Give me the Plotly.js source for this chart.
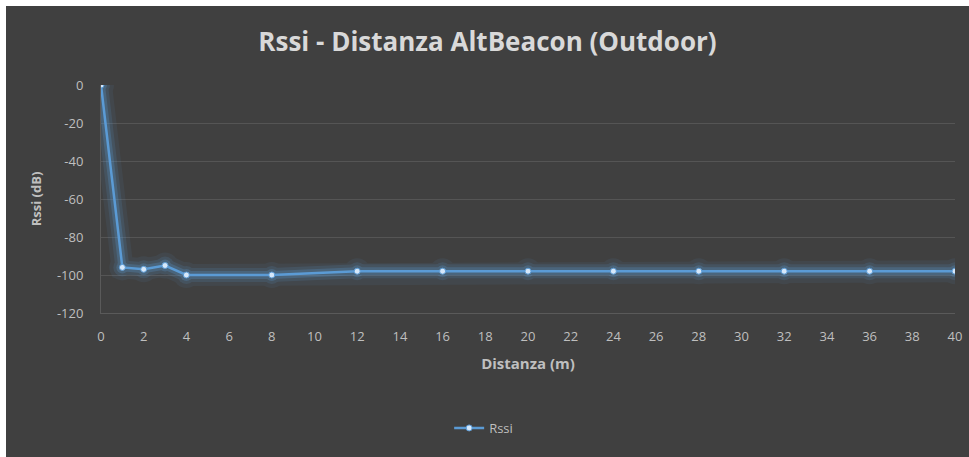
<!DOCTYPE html>
<html>
<head>
<meta charset="utf-8">
<script src="https://cdn.plot.ly/plotly-3.0.1.min.js"></script>
<style>
  html, body { margin: 0; padding: 0; background: #ffffff; width: 969px; height: 457px; overflow: hidden; }
  #chart { position: absolute; left: 6px; top: 6px; width: 963px; height: 451px; }
</style>
</head>
<body>
<div id="chart"></div>
<script>
// Distance (m) and measured RSSI (dB)
const distanza = [0, 1, 2, 3, 4, 8, 12, 16, 20, 24, 28, 32, 36, 40];
const rssi = [0, -96, -97, -95, -100, -100, -98, -98, -98, -98, -98, -98, -98, -98];
const xTicks = [0, 2, 4, 6, 8, 10, 12, 14, 16, 18, 20, 22, 24, 26, 28, 30, 32, 34, 36, 38, 40];
const yTicks = [0, -20, -40, -60, -80, -100, -120];

const lineBlue = '#5b9bd5';
const fontFam = 'Open Sans, Liberation Sans, sans-serif';
const tickFont = { family: fontFam, size: 13, color: '#bfbfbf' };

// Soft glow under the series line
const glow = [22, 14, 8].map((w, i) => ({
  x: distanza, y: rssi, type: 'scatter', mode: 'lines+markers',
  line: { color: lineBlue, width: w },
  marker: { size: w + 4, color: lineBlue },
  opacity: [0.08, 0.14, 0.25][i],
  hoverinfo: 'skip', showlegend: false
}));

const main = {
  x: distanza, y: rssi, type: 'scatter', mode: 'lines+markers', name: 'Rssi',
  line: { color: lineBlue, width: 2.5 },
  marker: { size: 6, color: '#d6e8fa', line: { color: lineBlue, width: 1 } }
};

const layout = {
  width: 963, height: 451,
  paper_bgcolor: '#404040', plot_bgcolor: '#404040',
  margin: { l: 95, r: 14, t: 79, b: 144 },
  title: {
    text: 'Rssi - Distanza AltBeacon (Outdoor)',
    font: { family: fontFam, size: 26, color: '#d9d9d9', weight: 'bold' },
    x: 0.5, xanchor: 'center', y: 1 - 36 / 451, yanchor: 'middle'
  },
  xaxis: {
    range: [0, 40], tickvals: xTicks, ticktext: xTicks.map(String),
    showgrid: false, zeroline: false,
    showline: true, linecolor: '#5a5a5a', linewidth: 1,
    ticks: '', ticklabelstandoff: 11, tickfont: tickFont,
    title: { text: 'Distanza (m)', font: { family: fontFam, size: 15, color: '#bfbfbf', weight: 'bold' }, standoff: 14 }
  },
  yaxis: {
    range: [-120, 0], tickvals: yTicks, ticktext: yTicks.map(String),
    showgrid: true, gridcolor: '#555555', gridwidth: 1, zeroline: false,
    showline: true, linecolor: '#5a5a5a', linewidth: 1,
    ticks: '', ticklabelstandoff: 14, tickfont: tickFont,
    title: { text: 'Rssi (dB)', font: { family: fontFam, size: 13, color: '#bfbfbf', weight: 'bold' }, standoff: 12 }
  },
  showlegend: true,
  legend: {
    orientation: 'h', xref: 'container', yref: 'container',
    x: 0.496, xanchor: 'center', y: 1 - 422 / 451, yanchor: 'middle',
    font: tickFont, bgcolor: 'rgba(0,0,0,0)'
  }
};

Plotly.newPlot('chart', [...glow, main], layout, { displayModeBar: false, staticPlot: true });
</script>
</body>
</html>
